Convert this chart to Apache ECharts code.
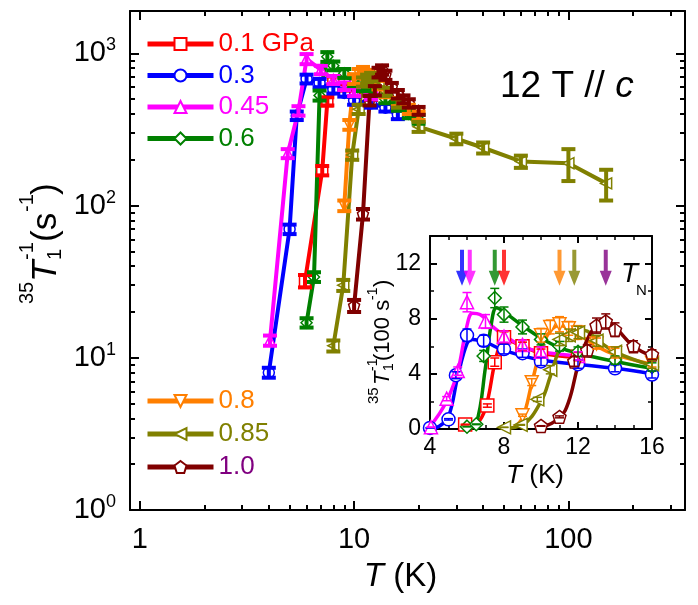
<!DOCTYPE html>
<html>
<head>
<meta charset="utf-8">
<script src="https://cdn.jsdelivr.net/npm/echarts@6/dist/echarts.min.js"></script>
<style>
  html, body { margin: 0; padding: 0; background: #fff; }
  #main { width: 698px; height: 605px; }
</style>
</head>
<body>
<div id="main"></div>
<script>
var FONT = '"Liberation Sans", Arial, sans-serif';

// 压力 (GPa) 标签
var names = ['0.1 GPa', '0.3', '0.45', '0.6', '0.8', '0.85', '1.0'];
var colors = ['#ff0000', '#0000ff', '#ff00ff', '#008000', '#ff7f00', '#808000', '#800000'];
var textColors = ['#ff0000', '#0000ff', '#ff00ff', '#008000', '#ff7f00', '#808000', '#800080'];

// T (K), 1/T1 (s^-1), error (s^-1)
var T_01 = [5.9, 7.1, 7.5, 8.0, 9.0, 10.0, 12.0];
var R_01 = [32, 170, 485, 665, 600, 550, 525];
var E_01 = [3, 12, 30, 40, 30, 30, 30];

var T_03 = [4.0, 5.0, 5.4, 6.0, 6.9, 8.0, 9.0, 10.0, 12.0, 14.0, 16.0];
var R_03 = [8, 70, 390, 680, 640, 580, 550, 490, 470, 440, 395];
var E_03 = [0.6, 5, 25, 45, 40, 35, 30, 30, 30, 25, 25];

var T_045 = [4.05, 4.9, 5.5, 6.0, 7.0, 8.0, 9.0, 10.0, 12.0];
var R_045 = [13, 220, 420, 920, 780, 670, 610, 560, 530];
var E_045 = [1, 15, 30, 70, 50, 40, 35, 35, 30];

var T_06 = [6.0, 6.5, 6.9, 7.5, 8.0, 9.0, 10.0, 11.0, 12.0, 14.0, 16.0, 18.0, 20.0];
var R_06 = [17, 34, 530, 950, 830, 740, 650, 600, 560, 500, 450, 400, 370];
var E_06 = [1.2, 2.5, 40, 70, 55, 50, 40, 35, 35, 30, 30, 25, 25];

var T_08 = [9.0, 9.5, 10.0, 10.5, 11.0, 11.5, 12.0, 13.0, 14.0, 16.0, 18.0, 20.0];
var R_08 = [100, 340, 680, 740, 760, 730, 700, 620, 550, 480, 430, 390];
var E_08 = [8, 25, 50, 50, 55, 50, 50, 40, 35, 30, 30, 25];

var T_085 = [8.0, 8.9, 9.8, 10.5, 11.0, 11.5, 12.0, 13.0, 14.0, 16.0, 20.0, 30.0, 40.0, 60.0, 100.0, 150.0];
var R_085 = [12, 30, 215, 430, 650, 680, 700, 640, 560, 470, 330, 275, 240, 195, 190, 140];
var E_085 = [1, 2.5, 15, 30, 45, 45, 45, 40, 35, 30, 25, 22, 20, 18, 45, 32];

var T_10 = [10.0, 11.0, 11.8, 12.5, 13.0, 13.5, 14.0, 15.0, 16.0, 17.0, 18.0, 20.0];
var R_10 = [22, 88, 490, 570, 750, 780, 720, 600, 540, 500, 470, 420];
var E_10 = [2, 7, 35, 40, 55, 55, 50, 40, 35, 30, 30, 25];

// 插图中的引导曲线 (T, 100 s^-1)
var FT_01 = [6.0, 6.5, 7.0, 7.5, 7.8, 8.0, 9.0, 10.0, 12.0];
var FR_01 = [0.1, 0.3, 1.5, 4.8, 6.2, 6.5, 6.0, 5.5, 5.2];
var FT_03 = [4.0, 4.5, 5.0, 5.5, 6.0, 6.3, 7.0, 8.0, 10.0, 12.0, 14.0, 16.0];
var FR_03 = [0.0, 0.2, 0.9, 3.8, 6.2, 6.5, 6.3, 5.7, 5.0, 4.7, 4.4, 4.0];
var FT_045 = [4.0, 4.5, 5.0, 5.5, 6.0, 6.3, 6.7, 7.5, 8.0, 9.0, 10.0, 12.0];
var FR_045 = [0.2, 1.1, 2.3, 4.2, 7.5, 8.4, 8.3, 7.3, 6.8, 6.0, 5.6, 5.3];
var FT_06 = [6.0, 6.5, 7.0, 7.3, 7.6, 8.0, 9.0, 10.0, 11.0, 12.0, 14.0, 16.0];
var FR_06 = [0.1, 0.4, 4.5, 7.5, 8.8, 8.5, 7.5, 6.6, 5.9, 5.5, 4.9, 4.4];
var FT_08 = [8.5, 9.0, 9.5, 10.0, 10.5, 11.0, 11.5, 12.0, 13.0, 14.0, 16.0];
var FR_08 = [0.1, 0.8, 3.3, 5.8, 7.1, 7.5, 7.3, 6.9, 6.0, 5.4, 4.7];
var FT_085 = [8.0, 9.0, 10.0, 10.5, 11.0, 11.5, 12.0, 12.5, 13.0, 14.0, 16.0];
var FR_085 = [0.05, 0.3, 2.0, 3.8, 5.8, 6.8, 7.2, 7.1, 6.5, 5.6, 4.6];
var FT_10 = [10.0, 11.0, 11.5, 12.0, 12.5, 13.0, 13.5, 14.0, 15.0, 16.0];
var FR_10 = [0.1, 0.8, 2.0, 4.6, 6.5, 7.5, 7.8, 7.4, 6.0, 5.3];

// T_N 箭头 (K)
var TN = [5.73, 6.15, 7.5, 8.0, 11.0, 11.8, 13.5];
var TN_colors = ['#0000ff', '#ff00ff', '#008000', '#ff0000', '#ff7f00', '#808000', '#800080'];

// 刻度
var mainXMajor = [1, 10, 100];
var mainXMinor = [2, 3, 4, 5, 6, 7, 8, 9, 20, 30, 40, 50, 60, 70, 80, 90, 200, 300];
var mainYMajor = [1, 10, 100, 1000];
var mainYMinor = [2, 3, 4, 5, 6, 7, 8, 9, 20, 30, 40, 50, 60, 70, 80, 90, 200, 300, 400, 500, 600, 700, 800, 900];

var Ts = [T_01, T_03, T_045, T_06, T_08, T_085, T_10];
var Rs = [R_01, R_03, R_045, R_06, R_08, R_085, R_10];
var Es = [E_01, E_03, E_045, E_06, E_08, E_085, E_10];
var FTs = [FT_01, FT_03, FT_045, FT_06, FT_08, FT_085, FT_10];
var FRs = [FR_01, FR_03, FR_045, FR_06, FR_08, FR_085, FR_10];
var symbols = ['rect', 'circle', 'triangle', 'diamond', 'triangle', 'triangle', 'path://M5,0 L10,3.6 L8.1,9.5 L1.9,9.5 L0,3.6 Z'];
var symRot = [0, 0, 0, 0, 180, 90, 0];

var myChart = echarts.init(document.getElementById('main'));

function errBar(capW, lw) {
    return function (params, api) {
        var x = api.value(0);
        var p1 = api.coord([x, api.value(1)]);
        var p2 = api.coord([x, api.value(2)]);
        var st = { stroke: api.visual('color'), lineWidth: lw };
        return {
            type: 'group',
            children: [
                { type: 'line', shape: { x1: p1[0], y1: p1[1], x2: p2[0], y2: p2[1] }, style: st },
                { type: 'line', shape: { x1: p1[0] - capW / 2, y1: p1[1], x2: p1[0] + capW / 2, y2: p1[1] }, style: st },
                { type: 'line', shape: { x1: p2[0] - capW / 2, y1: p2[1], x2: p2[0] + capW / 2, y2: p2[1] }, style: st }
            ]
        };
    };
}

function logAxis(pos, min, max, ticks, len, showLine, label, extra) {
    var ax = {
        type: 'log', logBase: 10, gridIndex: 0, position: pos, min: min, max: max,
        axisLine: { show: showLine, onZero: false, lineStyle: { color: '#000', width: 2 } },
        axisTick: { show: true, inside: true, length: len, customValues: ticks, lineStyle: { color: '#000', width: 2 } },
        axisLabel: { show: false },
        splitLine: { show: false }
    };
    if (label) ax.axisLabel = label;
    if (extra) for (var k in extra) ax[k] = extra[k];
    return ax;
}

function insetAxis(pos, min, max, split, extra) {
    var ax = {
        type: 'value', gridIndex: 1, position: pos, min: min, max: max, interval: 4, z: 7,
        axisLine: { onZero: false, lineStyle: { color: '#000', width: 2 } },
        axisTick: { inside: true, length: 7, lineStyle: { color: '#000', width: 2 } },
        minorTick: { show: true, splitNumber: split, length: 4, lineStyle: { color: '#000', width: 1.5 } },
        axisLabel: { show: false }, splitLine: { show: false }
    };
    if (extra) for (var k in extra) ax[k] = extra[k];
    return ax;
}

var xAxes = [
    logAxis('bottom', 0.9, 350, mainXMajor, 9, true, {
        show: true, customValues: mainXMajor, color: '#000', fontSize: 29, fontFamily: FONT, margin: 15
    }, {
        name: '{i|T} (K)', nameLocation: 'middle', nameGap: 50,
        nameTextStyle: { fontSize: 33, fontFamily: FONT, color: '#000', padding: [0, 14, 0, 0],
            rich: { i: { fontSize: 33, fontStyle: 'italic', fontFamily: FONT } } }
    }),
    logAxis('bottom', 0.9, 350, mainXMinor, 5, false),
    logAxis('top', 0.9, 350, mainXMajor, 9, true),
    logAxis('top', 0.9, 350, mainXMinor, 5, false),
    insetAxis('bottom', 4, 16, 4, {
        axisLabel: { color: '#000', fontSize: 23, fontFamily: FONT, margin: 7 },
        name: '{i|T} (K)', nameLocation: 'middle', nameGap: 34,
        nameTextStyle: { fontSize: 26, fontFamily: FONT, color: '#000', padding: [0, 12, 0, 0],
            rich: { i: { fontSize: 26, fontStyle: 'italic', fontFamily: FONT } } }
    }),
    insetAxis('top', 4, 16, 4)
];

var yAxes = [
    logAxis('left', 1, 1900, mainYMajor, 9, true, {
        show: true, customValues: mainYMajor, margin: 14,
        formatter: function (v) {
            return '{b|10}{s|' + Math.round(Math.log10(v)) + '}';
        },
        rich: {
            b: { fontSize: 29, fontFamily: FONT, color: '#000' },
            s: { fontSize: 18, fontFamily: FONT, color: '#000', verticalAlign: 'bottom', padding: [0, 0, 16, 0] }
        }
    }),
    logAxis('left', 1, 1900, mainYMinor, 5, false),
    logAxis('right', 1, 1900, mainYMajor, 9, true),
    logAxis('right', 1, 1900, mainYMinor, 5, false),
    insetAxis('left', 0, 14, 2, {
        axisLabel: { color: '#000', fontSize: 23, fontFamily: FONT, margin: 9, showMaxLabel: false }
    }),
    insetAxis('right', 0, 14, 2)
];

var series = [];
// 主图: 线 + 符号
for (var i = 0; i < names.length; i++) {
    var d = [], inD = [], fit = [];
    for (var j = 0; j < Ts[i].length; j++) {
        d.push([Ts[i][j], Rs[i][j]]);
        if (Ts[i][j] <= 16.5) inD.push([Ts[i][j], Rs[i][j] / 100]);
    }
    for (var j = 0; j < FTs[i].length; j++) fit.push([FTs[i][j], FRs[i][j]]);
    series.push({
        name: names[i], type: 'line', xAxisIndex: 0, yAxisIndex: 0, data: d,
        symbol: symbols[i], symbolRotate: symRot[i], symbolSize: 11, showAllSymbol: true,
        lineStyle: { color: colors[i], width: 4 },
        itemStyle: { color: '#fff', borderColor: colors[i], borderWidth: 1.5 },
        z: 3
    });
    series.push({
        type: 'line', xAxisIndex: 4, yAxisIndex: 4, data: fit, smooth: 0.4,
        symbol: 'none', lineStyle: { color: colors[i], width: 3.5 }, z: 9, silent: true
    });
    series.push({
        type: 'scatter', xAxisIndex: 4, yAxisIndex: 4, data: inD,
        symbol: symbols[i], symbolRotate: symRot[i], symbolSize: 13,
        itemStyle: { color: '#fff', borderColor: colors[i], borderWidth: 1.5, opacity: 1 },
        z: 10, silent: true
    });
}
// 误差棒
for (var i = 0; i < names.length; i++) {
    var eb = [], ebIn = [];
    for (var j = 0; j < Ts[i].length; j++) {
        eb.push([Ts[i][j], Rs[i][j] - Es[i][j], Rs[i][j] + Es[i][j]]);
        if (Ts[i][j] <= 16.5) ebIn.push([Ts[i][j], (Rs[i][j] - Es[i][j]) / 100, (Rs[i][j] + Es[i][j]) / 100]);
    }
    series.push({
        type: 'custom', xAxisIndex: 0, yAxisIndex: 0, data: eb, renderItem: errBar(14, 4),
        itemStyle: { color: colors[i] }, encode: { x: 0, y: [1, 2] }, z: 4, silent: true
    });
    series.push({
        type: 'custom', xAxisIndex: 4, yAxisIndex: 4, data: ebIn, renderItem: errBar(9, 1.5),
        itemStyle: { color: colors[i] }, encode: { x: 0, y: [1, 2] }, z: 11, silent: true
    });
}
// T_N 箭头
series.push({
    type: 'scatter', xAxisIndex: 4, yAxisIndex: 4,
    data: TN.map(function (t, k) { return { value: [t, 11.7], itemStyle: { color: TN_colors[k] } }; }),
    symbol: 'path://M4,0 L8,0 L8,21 L12,21 L6,36 L0,21 L4,21 Z', symbolSize: [12, 36],
    z: 12, silent: true
});

// 竖排标题: [文字, dx, 基线偏移, 字号, 斜体]
function vTitle(x, y, parts) {
    return {
        type: 'group', x: x, y: y, rotation: Math.PI / 2, z: 20,
        children: parts.map(function (p) {
            return {
                type: 'text', x: p[1], y: p[2] + 0.21 * p[3],
                style: {
                    text: p[0], fill: '#000', verticalAlign: 'bottom', align: 'left',
                    font: (p[4] ? 'italic ' : '') + p[3] + 'px ' + FONT
                }
            };
        })
    };
}

var option = {
    backgroundColor: '#fff',
    animation: false,
    grid: [
        { left: 130, top: 11, width: 555, height: 499, show: false },
        { left: 430, top: 236, width: 222, height: 193, show: true, backgroundColor: '#fff', borderWidth: 0, z: 5 }
    ],
    legend: [
        {
            data: names.slice(0, 4).map(function (n, k) { return { name: n, textStyle: { color: textColors[k] } }; }),
            left: 140, top: 26, orient: 'vertical', itemWidth: 66, itemHeight: 15, itemGap: 5.5,
            lineStyle: { width: 5 },
            textStyle: { fontSize: 26, fontFamily: FONT, lineHeight: 25.5 }, selectedMode: false
        },
        {
            data: names.slice(4).map(function (n, k) { return { name: n, textStyle: { color: textColors[k + 4] } }; }),
            left: 140, top: 383, orient: 'vertical', itemWidth: 66, itemHeight: 15, itemGap: 7,
            lineStyle: { width: 5 },
            textStyle: { fontSize: 26, fontFamily: FONT, lineHeight: 25.5 }, selectedMode: false
        }
    ],
    xAxis: xAxes,
    yAxis: yAxes,
    series: series,
    graphic: [
        vTitle(56, 304, [
            ['35', 0, -23, 20], ['T', 22, 0, 35, true], ['-1', 44, -23, 20], ['1', 44, 5, 20],
            ['(s', 62, 0, 35], ['-1', 92, -23, 20], [')', 109, 0, 35]
        ]),
        vTitle(389, 404, [
            ['35', 0, -11, 15], ['T', 19, 0, 22, true], ['-1', 33, -12, 14], ['1', 33, 4, 14],
            ['(100 s', 43, 0, 22], ['-1', 104, -12, 14], [')', 117, 0, 22]
        ]),
        {
            type: 'text', x: 500, y: 68, z: 20,
            style: { text: '12 T // {i|c}', fill: '#000', font: '37px ' + FONT, verticalAlign: 'top',
                rich: { i: { fontStyle: 'italic', fontSize: 37, fontFamily: FONT } } }
        },
        {
            type: 'text', x: 621, y: 260, z: 20,
            style: { text: 'T', fill: '#000', font: 'italic 28px ' + FONT, verticalAlign: 'top' }
        },
        {
            type: 'text', x: 636, y: 283, z: 20,
            style: { text: 'N', fill: '#000', font: '15px ' + FONT, verticalAlign: 'top' }
        }
    ]
};

myChart.setOption(option);
</script>
</body>
</html>
